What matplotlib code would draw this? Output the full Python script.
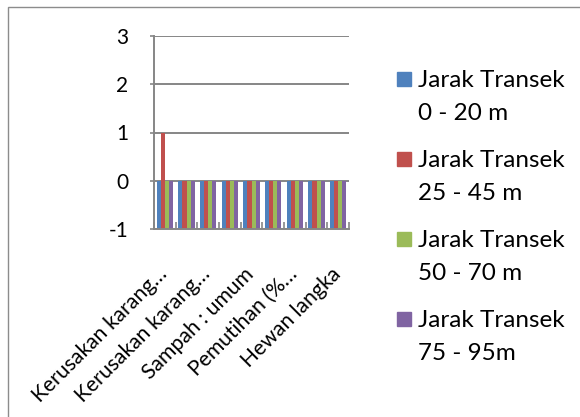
import numpy as np
import matplotlib
matplotlib.use("Agg")
import matplotlib.pyplot as plt
import matplotlib.transforms as mtransforms
from matplotlib.patches import Rectangle

plt.rcParams['font.family'] = ['Lato', 'DejaVu Sans']
plt.rcParams['axes.unicode_minus'] = False

# categories (only every other one gets a visible label)
tick_labels = ["Kerusakan karang…", "", "Kerusakan karang…", "", "Sampah : umum",
               "", "Pemutihan (%…", "", "Hewan langka"]
series_names = [("Jarak Transek", "0 - 20 m"),
                ("Jarak Transek", "25 - 45 m"),
                ("Jarak Transek", "50 - 70 m"),
                ("Jarak Transek", "75 - 95m")]
jarak_0_20 = [0, 0, 0, 0, 0, 0, 0, 0, 0]
jarak_25_45 = [1, 0, 0, 0, 0, 0, 0, 0, 0]
jarak_50_70 = [0, 0, 0, 0, 0, 0, 0, 0, 0]
jarak_75_95 = [0, 0, 0, 0, 0, 0, 0, 0, 0]
colors = ["#4F81BD", "#C0504D", "#9BBB59", "#8064A2"]

W, H = 580, 417
ymin, ymax = -1, 3
gray = "#868686"

fig = plt.figure(figsize=(W / 100, H / 100), dpi=100)
ax = fig.add_axes([154 / W, 1 - 229 / H, 195 / W, 193 / H])

x = np.arange(len(tick_labels))
bw = 0.185
all_series = [jarak_0_20, jarak_25_45, jarak_50_70, jarak_75_95]
for i, (vals, c) in enumerate(zip(all_series, colors)):
    vals = np.array(vals, dtype=float)
    # bars start from the axis crossing at the minimum
    ax.bar(x + (i - 1.5) * bw, vals - ymin, bottom=ymin, width=bw,
           color=c, zorder=2, linewidth=0)

ax.set_xlim(-0.5, len(tick_labels) - 0.5)
ax.set_ylim(ymin, ymax)
ax.set_yticks(range(ymin, ymax + 1))
ax.yaxis.grid(True, color=gray, linewidth=1.4, zorder=0)
ax.set_axisbelow(True)

for s in ["top", "right"]:
    ax.spines[s].set_visible(False)
for s in ["left", "bottom"]:
    ax.spines[s].set_color(gray)
    ax.spines[s].set_linewidth(1.4)

ax.tick_params(axis='y', colors=gray, length=3, width=1.2, pad=15.5,
               labelsize=15, labelcolor='black')
ax.set_xticks(x)
ax.set_xticklabels(tick_labels, fontsize=15.2)
ax.tick_params(axis='x', which='major', length=0, pad=0)
ax.set_xticks(np.arange(-0.5, len(tick_labels), 1), minor=True)
ax.tick_params(axis='x', which='minor', direction='in', length=5,
               width=1.2, color=gray)

shift = mtransforms.ScaledTranslation(-8 / 100, -35 / 100, fig.dpi_scale_trans)
for lab in ax.get_xticklabels():
    lab.set_rotation(45)
    lab.set_rotation_mode('anchor')
    lab.set_ha('right')
    lab.set_va('top')
    lab.set_transform(lab.get_transform() + shift)

# legend drawn by hand: square + two text lines per entry
for i, ((l1, l2), c) in enumerate(zip(series_names, colors)):
    top = 72 + 80 * i
    fig.patches.append(Rectangle((397 / W, 1 - (top + 14) / H), 14 / W, 14 / H,
                                 transform=fig.transFigure, color=c))
    fig.text(418 / W, 1 - (top + 15) / H, l1, fontsize=17.5, va='baseline')
    fig.text(418 / W, 1 - (top + 48) / H, l2, fontsize=17.5, va='baseline')

# chart-area border
fig.patches.append(Rectangle((8 / W, -0.1), 1.2, 1 - 7 / H + 0.1,
                             transform=fig.transFigure, fill=False,
                             edgecolor="#8c8c8c", linewidth=1.0))

fig.savefig("out.png", dpi=100)
